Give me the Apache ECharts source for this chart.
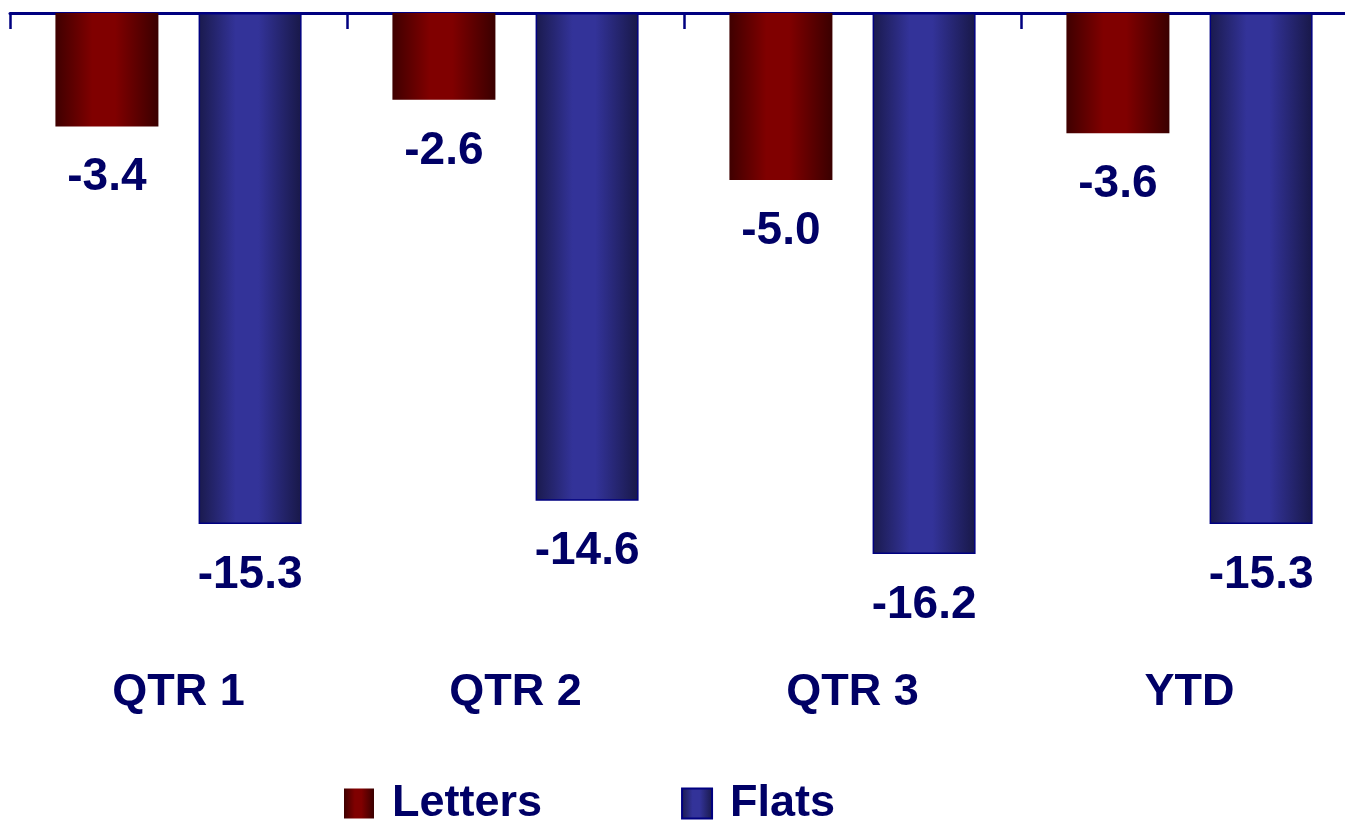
<!DOCTYPE html>
<html>
<head>
<meta charset="utf-8">
<script src="https://cdn.jsdelivr.net/npm/echarts@6/dist/echarts.min.js"></script>
<style>
  html, body { margin: 0; padding: 0; background: #ffffff; overflow: hidden; }
  /* the last category runs a little past the right edge of the page */
  #chart { width: 1358px; height: 820px; }
</style>
</head>
<body>
<div id="chart"></div>
<script>
// Change by period, in percent
const categories = ['QTR 1', 'QTR 2', 'QTR 3', 'YTD'];
const letters = [-3.4, -2.6, -5.0, -3.6];
const flats = [-15.3, -14.6, -16.2, -15.3];

const NAVY = '#000066';
const FONT = '"Liberation Sans", Arial, sans-serif';

// Horizontal shading that gives the bars a rounded, cylinder look
function shade(edgeL, mid, edgeR) {
  return new echarts.graphic.LinearGradient(0, 0, 1, 0, [
    { offset: 0, color: edgeL },
    { offset: 0.36, color: mid },
    { offset: 0.58, color: mid },
    { offset: 1, color: edgeR }
  ]);
}

const valueLabel = {
  show: true,
  position: 'bottom',
  distance: 28,
  color: NAVY,
  fontFamily: FONT,
  fontWeight: 'bold',
  fontSize: 46,
  formatter: p => p.value.toFixed(1)
};

const chart = echarts.init(document.getElementById('chart'), null, { renderer: 'canvas' });
chart.setOption({
  animation: false,
  backgroundColor: '#ffffff',
  grid: { left: 10, right: 0, top: 13, height: 634.6, containLabel: false },
  legend: {
    data: ['Letters', 'Flats'],
    left: 344,
    top: 781,
    padding: 0,
    icon: 'rect',
    itemWidth: 30,
    itemHeight: 30,
    itemGap: 139,
    textStyle: {
      color: NAVY,
      fontFamily: FONT,
      fontWeight: 'bold',
      fontSize: 45,
      padding: [0, 0, 0, 13]
    }
  },
  xAxis: [
    {
      type: 'category',
      data: categories,
      position: 'top',
      axisLine: { show: true, lineStyle: { color: '#000080', width: 3 } },
      axisTick: { show: true, inside: true, length: 16, lineStyle: { color: '#000080', width: 2.5 } },
      axisLabel: { show: false },
      splitLine: { show: false }
    },
    {
      type: 'category',
      data: categories,
      position: 'bottom',
      axisLine: { show: false },
      axisTick: { show: false },
      axisLabel: {
        show: true,
        margin: 22,
        color: NAVY,
        fontFamily: FONT,
        fontWeight: 'bold',
        fontSize: 45
      }
    }
  ],
  yAxis: {
    type: 'value',
    min: -19,
    max: 0,
    show: false,
    splitLine: { show: false }
  },
  series: [
    {
      name: 'Letters',
      type: 'bar',
      xAxisIndex: 0,
      data: letters,
      barWidth: 103,
      barGap: '39%',
      itemStyle: { color: shade('#3f0000', '#800000', '#3a0000') },
      label: valueLabel
    },
    {
      name: 'Flats',
      type: 'bar',
      xAxisIndex: 0,
      data: flats,
      barWidth: 103,
      itemStyle: {
        color: shade('#1a1a4d', '#333399', '#181848'),
        borderColor: '#000080',
        borderWidth: 1.5
      },
      label: valueLabel
    }
  ]
});
</script>
</body>
</html>
